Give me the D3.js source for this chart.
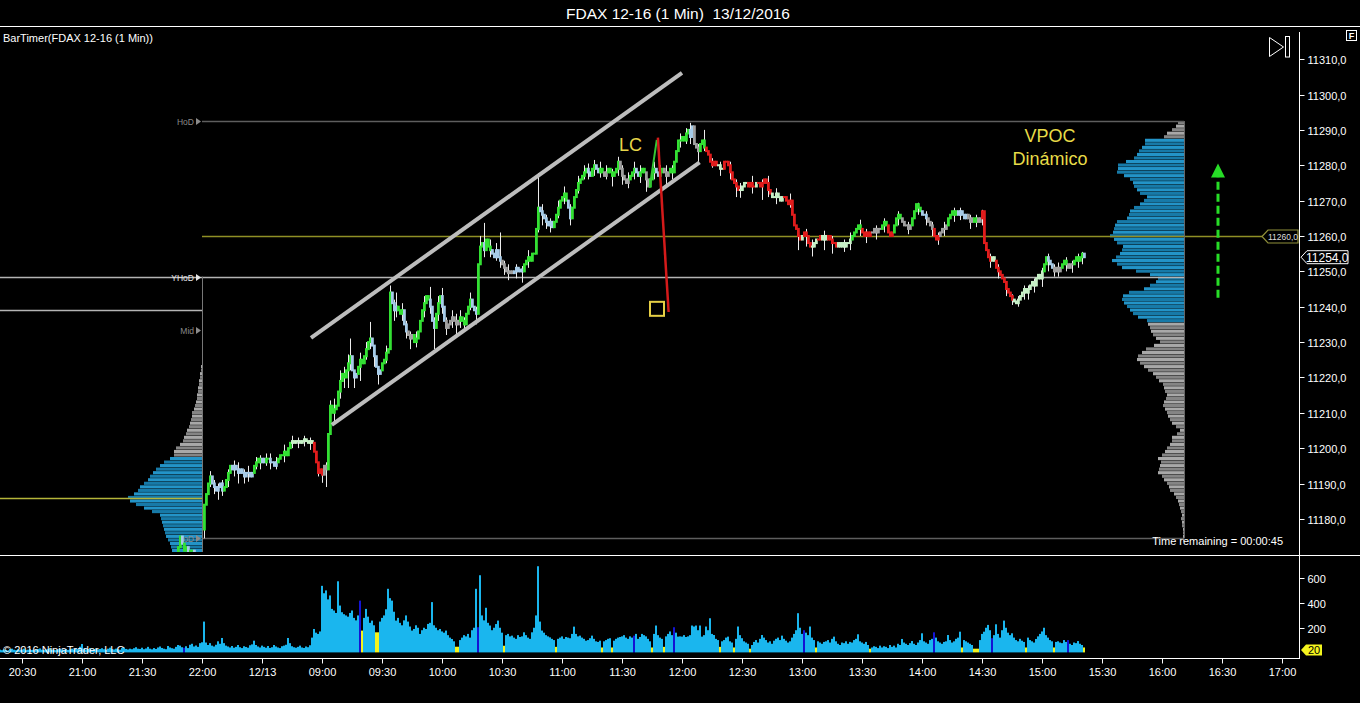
<!DOCTYPE html>
<html><head><meta charset="utf-8">
<script src="https://cdn.jsdelivr.net/npm/d3@7"></script>
<style>
html,body{margin:0;padding:0;background:#000;overflow:hidden}
svg{display:block;font-family:Arial,"Liberation Sans",sans-serif}
</style></head><body>
<svg id="c" width="1360" height="703"></svg>
<script>
// ---------------- DATA ----------------
const title = "FDAX 12-16 (1 Min)  13/12/2016";
const indicatorLabel = "BarTimer(FDAX 12-16 (1 Min))";
const timeLabels = ["20:30","21:00","21:30","22:00","12/13","09:00","09:30","10:00","10:30","11:00","11:30","12:00","12:30","13:00","13:30","14:00","14:30","15:00","15:30","16:00","16:30","17:00"];
const timeLabelBars = [-91,-61,-31,-1,29,59,89,119,149,179,209,239,269,299,329,359,389,419,449,479,509,539];
const priceTicks = [11180,11190,11200,11210,11220,11230,11240,11250,11260,11270,11280,11290,11300,11310];
const volumeTicks = [200,400,600];

const firstOpen = 11177;
const closes = [
11184,11187,11190,11192,11190,11189,11188,11189,11190,11188,
11189,11191,11193,11195,11194,11195,11194,11193,11194,11193,
11192,11193,11193,11192,11193,11195,11196,11197,11196,11197,
11196,11197,11197,11196,11196,11195,11196,11197,11198,11198,
11199,11198,11200,11201.5,11202,11201.5,11202,11202,11201.5,11202,
11202.5,11202,11201.5,11202,11201.5,11199,11196,11193,11194,11192.5,
11195,11194,11204,11212,11210,11211,11212,11216,11219,11221,
11220,11222,11224,11226,11222,11220,11221,11223,11225,11224,
11226,11228,11230,11231,11229,11226,11223,11221,11222,11224,
11225,11227,11228,11244,11241,11239,11240,11239,11238,11239,
11235,11233,11232,11231,11232,11230,11231,11233,11236,11239,
11241,11243,11242,11240,11236,11234,11238,11241,11243,11240,
11236,11234,11235,11236,11237,11236,11235,11236,11237,11236,
11235,11238,11240,11242,11240,11239,11238,11252,11257,11258,
11256,11259,11257,11256,11255,11254,11256,11254,11253,11252,
11251,11250,11249.5,11250,11249.5,11250,11251,11250,11250.5,11250,
11252,11253,11254,11253,11255,11255,11262,11268,11267,11266,
11265,11264,11263,11264,11262.5,11264,11266,11268,11270,11271,
11272,11270,11268,11265,11268,11271,11273,11275,11276,11277,
11278,11279,11278,11277,11279,11280,11279,11278,11279,11278,
11277,11278,11279,11278,11277,11278,11279,11281,11279,11277,
11276,11275,11276,11277,11278,11279,11278,11277,11278,11279,
11278,11276,11274,11276,11278,11279,11278,11277,11278,11279,
11278,11277,11278,11279,11278,11281,11284,11287,11287,11288,
11287,11289,11290,11288,11291,11286,11285,11284,11286,11287,
11285,11284,11283,11281,11280,11281,11280,11280,11279,11279,
11281,11281,11280,11278,11276,11275,11274,11273,11273,11274,
11275,11275,11274,11275,11274,11274,11275,11275,11274,11275,
11276,11275,11273,11272,11271,11271,11272,11271,11270,11271,
11271,11270,11269,11270,11266,11263,11262,11260,11259,11260,
11261,11260,11258,11257,11257,11258,11259,11259,11260,11259,
11260,11259,11260,11259,11258,11258,11257,11258,11257,11258,
11257,11258,11258,11259,11260,11261,11262,11263,11262,11261,
11260,11261,11260,11261,11261,11262,11261,11262,11262,11263,
11264,11263,11261,11260,11261,11263,11265,11266,11265,11264,
11263,11263,11262,11263,11265,11267,11269,11268,11267,11266,
11266,11265,11264,11263,11262,11260,11259,11260,11261,11262,
11262,11263,11265,11266,11267,11266,11267,11266,11267,11266,
11265,11266,11265,11264,11265,11264,11265,11264,11265,11267,
11258,11256,11254,11253,11254,11253,11251,11250,11249,11248,
11247,11245,11244,11243,11242,11241.5,11241,11242,11243,11244,
11245,11244,11245,11246,11247,11246,11248,11249,11248,11250,
11252,11254,11253,11252,11251,11250,11251,11250,11251,11252,
11253,11252,11251,11252,11252,11253,11254,11253,11254,11255,
11254];
// visible wicks: [bar, high, low]
const wicks = [[0,11184,11174.5],[3,11193.5,11189],[5,11191,11187],[7,11190,11185.4],[9,11191,11186.5],[12,11194,11189],[15,11196.5,11192],[17,11196,11190],[20,11194,11190],[22,11195,11190.5],[26,11197.5,11194],[28,11198,11194],[31,11198.5,11195],[33,11198.5,11194],[36,11197.5,11194],[40,11201,11196],[44,11203.5,11200],[47,11203,11200],[50,11203.5,11200.5],[53,11203,11199.5],[57,11196,11192],[59,11194,11190.2],[61,11196,11189],[63,11213.5,11204],[65,11214,11207],[68,11222,11214],[70,11223,11217],[72,11226.5,11217],[73,11231,11222],[75,11222,11217],[78,11227,11219],[81,11230,11225],[83,11235.7,11228],[85,11229,11223],[87,11222,11218],[91,11229,11224],[93,11246,11228],[95,11242,11236],[96,11244,11237],[99,11241,11236],[101,11236,11231],[103,11233,11228],[106,11233,11228.5],[110,11243,11237],[113,11245.6,11238],[115,11237,11228],[117,11243,11236],[119,11245.3,11238],[121,11237,11232],[124,11239,11234],[126,11238,11232],[128,11239,11234],[130,11237,11233],[133,11244,11239],[136,11240,11235],[138,11260,11255],[140,11263.7,11254],[143,11259,11254],[146,11258,11253],[148,11261,11251],[150,11253,11249],[152,11252,11247.5],[156,11252,11248],[159,11251.5,11246.8],[162,11256,11251],[167,11277.8,11261],[169,11269,11263],[171,11266,11262],[173,11265,11261],[177,11270,11265],[180,11274,11269],[183,11269,11263],[187,11277,11272],[190,11280,11276],[192,11280.5,11276],[195,11281.5,11277],[198,11281,11276.5],[201,11280,11276],[204,11279,11274],[207,11282.4,11277],[209,11280,11274.5],[212,11278,11273.5],[215,11281,11276],[218,11280,11275],[221,11277,11272.5],[225,11281,11276],[228,11280,11275],[231,11280,11274],[234,11280,11276],[238,11289,11285],[241,11290.5,11286],[243,11292,11286],[247,11286,11281],[250,11290,11284],[254,11282,11279.3],[258,11281,11277],[263,11281,11276],[266,11276,11271],[268,11275,11270.8],[274,11277,11272],[279,11276,11270.2],[282,11277,11271],[286,11273.5,11269],[293,11272,11268],[297,11261,11256],[301,11262,11257],[304,11259,11254.2],[310,11261.5,11256],[314,11260,11255],[320,11259,11255.5],[323,11261,11256],[328,11264.6,11260],[331,11262,11258],[336,11263,11259],[340,11265,11261],[347,11267,11263],[352,11264,11260.5],[357,11269.4,11266],[361,11267,11263],[364,11264,11260],[367,11261,11257.5],[370,11264,11260],[375,11268,11264],[378,11268,11264.5],[383,11266,11262],[386,11266,11262.5],[389,11267.4,11263],[393,11255,11251],[397,11252,11248],[401,11246.5,11243],[404,11243.5,11240.5],[407,11243,11240],[410,11246,11242],[412,11246,11242],[415,11248,11244],[419,11251,11245.6],[422,11255,11250],[425,11252,11248.5],[427,11252.5,11248.5],[431,11254,11250],[434,11253,11249.6],[437,11255,11251],[439,11255.5,11252]];
// bar colour state runs: [startBar, state]  G up, B pullback, P weak, R down, K neutral
const colorRuns = [[0,'G'],[4,'B'],[10,'G'],[14,'B'],[25,'G'],[29,'B'],[31,'G'],[33,'B'],[37,'G'],[44,'P'],[55,'R'],[60,'K'],[62,'G'],[74,'B'],[77,'G'],[84,'B'],[89,'G'],[94,'B'],[97,'G'],[100,'B'],[102,'K'],[105,'G'],[113,'B'],[116,'G'],[119,'B'],[121,'K'],[128,'G'],[134,'B'],[137,'G'],[140,'B'],[141,'G'],[144,'B'],[149,'K'],[155,'B'],[160,'G'],[168,'B'],[175,'G'],[182,'B'],[184,'G'],[192,'B'],[194,'G'],[196,'B'],[198,'G'],[200,'K'],[202,'G'],[208,'K'],[213,'G'],[216,'B'],[218,'G'],[221,'K'],[223,'G'],[226,'B'],[228,'G'],[230,'K'],[233,'G'],[243,'B'],[245,'K'],[248,'G'],[251,'R'],[257,'P'],[260,'R'],[268,'P'],[272,'R'],[276,'P'],[277,'R'],[284,'P'],[290,'R'],[299,'P'],[300,'R'],[304,'P'],[307,'R'],[309,'P'],[312,'R'],[317,'P'],[324,'G'],[329,'R'],[334,'K'],[339,'G'],[342,'R'],[345,'G'],[349,'K'],[354,'G'],[359,'B'],[362,'K'],[365,'R'],[368,'K'],[372,'G'],[377,'B'],[382,'K'],[385,'G'],[387,'K'],[389,'R'],[394,'P'],[396,'R'],[405,'P'],[420,'G'],[422,'B'],[425,'K'],[429,'G'],[432,'K'],[435,'G'],[440,'B']];

// previous session (last visible bars)
const prevStartBar = -14;
const prevCloses = [11169,11172,11175,11173,11171,11172,11170,11171,11171,11169];

// volume
const prevVolumes = [22,18,25,20,15,28,30,22,18,25, 20,24,30,18,22,26,20,17,25,28, 32,22,19,24,27,35,22,20,18,26, 30,24,22,28,20,25,30,22,34,26, 46,68,30,24,28,35,22,26,30,25, 28,34,26,22,30,38,27,24,30,26, 22,35,40,28,24,30,26,34,42,30, 28,38,26,32,45,30,25,35,28,40, 48,36,30,26,52,40,34,30,45,60, 55,42,38,50,35,62,70,48,56,45, 75,82];
const volumes = [
250,80,60,75,55,48,62,90,70,117, 75,55,48,40,52,38,45,60,42,35,
50,44,38,58,65,95,60,48,40,55, 45,38,52,36,42,60,48,40,35,50,
55,62,117,75,50,42,38,45,55,40, 36,48,42,58,120,190,160,150,170,540,
480,503,430,462,353,340,320,577,380,326, 310,300,290,320,340,280,260,300,420,177,
280,353,290,240,258,220,163,163,250,280, 300,350,516,440,420,330,258,280,240,220,
260,300,250,210,177,190,220,200,150,180, 200,190,231,240,408,220,200,180,190,170,
160,177,140,120,109,90,46,46,100,120, 140,130,150,120,180,200,516,204,626,300,
260,362,240,218,180,200,230,258,200,160, 54,140,150,130,136,120,110,140,125,130,
163,140,120,110,163,200,300,699,250,177, 160,140,130,122,110,100,45,110,120,130,
110,125,120,115,150,209,150,130,136,120, 110,95,100,115,136,110,90,85,95,40,
90,100,110,115,40,95,110,120,125,130, 140,120,110,130,120,136,150,110,125,150,
140,130,110,90,40,150,218,140,120,110, 45,130,150,170,140,204,160,128,130,128,
140,125,130,140,218,210,218,180,218,128, 140,210,180,277,150,141,110,100,45,90,
100,120,128,90,80,40,110,210,140,115, 90,80,70,30,60,85,100,80,110,141,
120,100,80,90,70,95,110,120,100,136, 110,95,80,90,120,150,180,318,200,150,
180,160,140,210,120,100,40,90,80,70, 85,90,100,80,110,128,90,70,60,80,
75,90,70,85,80,100,110,147,90,80, 70,85,60,30,40,50,45,35,55,40,
50,45,35,60,45,55,40,70,60,109, 80,70,60,75,92,70,60,80,100,155,
90,80,70,100,110,163,120,90,80,70, 85,90,141,100,80,90,110,120,168,40,
100,90,80,70,60,30,30,30,100,150, 168,200,223,180,115,140,228,150,120,180,
258,200,160,140,155,120,100,90,110,95, 85,40,120,100,90,80,109,130,150,170,
200,140,120,100,90,40,85,90,80,75, 100,85,100,70,60,80,75,92,70,60,
40];
const volYellowBars = [79,86,87,126,127,150,176,199,204,224,230,258,265,273,306,333,379,385,386,387,411,425,440];
const volDarkBars = [-10,78,137,215,235,300,365,394,432];
const lastVolume = 20;

// session levels
const HoD = 11292.5, LoD = 11174.5, YHoD = 11248.5, prevLevel = 11239, VPOC = 11260, prevVPOC = 11186, lastPrice = 11254;
const sessionStartBar = -1, profileEdgeBar = 490;

// current session volume profile (1-pt levels, ascending from profileLow)
const profileLow = 11174;
const profileVol = [1,1,1,1,2,2,3,2,3,4, 5,6,8,10,14,15,17,20,22,26, 25,24,23,26,22,19,17,14,12,12, 7,4,8,12,14,16,17,19,21,20, 18,17,19,20,21,25,28,31,36,40, 44,47,46,42,38,30,24,28,31,33, 34,36,37,46,51,54,57,60,62,61, 55,40,34,28,26,34,48,62,67,72, 68,64,62,61,67,70,74,71,70,69, 67,57,55,54,50,44,40,37,44,47, 50,51,54,60,67,66,66,58,50,47, 45,42,39,39,20,17,12,8,6];
const vaLow = 11236, vaHigh = 11287;
// previous session profile
const prevProfileLow = 11168;
const prevProfileVol = [28,28,29,30,31,32,34,36,37,38, 39,40,41,42,50,58,66,72,74,68, 64,62,58,54,52,49,46,42,38,32, 28,28,26,22,19,18,16,15,13,12, 11,10,10,8,7,6,5,5,4,4, 3,3,2,2,1,1];
const prevVaHigh = 11197;

// drawings: [bar, price]
const channelUpper = [[53.5,11231.2],[239,11306.1]];
const channelLower = [[63.9,11206.6],[247.8,11280.8]];
const lcUp = [[222.8,11273.6],[226.4,11287.2]];
const lcDown = [[226.95,11287.8],[232.3,11238.5]];
const lcBox = [226.5,11239.4];
const lcText = [207.5,11284];
const vpocText = [423,11286.7];
const vpocText2 = [423,11280.1];
const arrowBar = 507, arrowFrom = 11242.5, arrowTo = 11280.5;

// ---------------- DRAW ----------------
const svg = d3.select("#c");
svg.append("rect").attr("width",1360).attr("height",703).attr("fill","#000");

const x = d3.scaleLinear().domain([-102,547]).range([0,1298]);
const y = d3.scaleLinear().domain([11169.5,11319.1]).range([556,27]);
const yV = d3.scaleLinear().domain([0,774]).range([652.4,557]);
const wP = d3.scaleLinear().domain([0,74]).range([0,74]);

svg.append("text").attr("x",678).attr("y",19).attr("text-anchor","middle").attr("fill","#fff").attr("font-size",15.5).style("white-space","pre").text(title);
svg.append("line").attr("x1",0).attr("x2",1360).attr("y1",26.5).attr("y2",26.5).attr("stroke","#fff");
svg.append("text").attr("x",3).attr("y",42).attr("fill","#fff").attr("font-size",11).text(indicatorLabel);

const defs = svg.append("defs");
defs.append("clipPath").attr("id","pc").append("rect").attr("x",0).attr("y",27).attr("width",1298).attr("height",525);
const g = svg.append("g").attr("clip-path","url(#pc)");

// profiles
const blueA="#2394c8", blueB="#177aa8", grayA="#a8a8a8", grayB="#858585";
const pr = x(profileEdgeBar);
profileVol.forEach((v,k)=>{
  const p = profileLow + k;
  const inVA = p>=vaLow && p<=vaHigh;
  g.append("rect").attr("x",pr-wP(v)).attr("width",wP(v))
   .attr("y",y(p+0.5)).attr("height",Math.max(0.5,y(p-0.5)-y(p+0.5)-0.4))
   .attr("fill", inVA ? (k%2?blueA:blueB) : (k%2?grayA:grayB));
});
const pl = x(sessionStartBar);
prevProfileVol.forEach((v,k)=>{
  const p = prevProfileLow + k;
  const inVA = p<=prevVaHigh;
  g.append("rect").attr("x",pl-wP(v)).attr("width",wP(v))
   .attr("y",y(p+0.5)).attr("height",Math.max(0.5,y(p-0.5)-y(p+0.5)-0.4))
   .attr("fill", inVA ? (k%2?blueA:blueB) : (k%2?grayA:grayB));
});

// level lines
function hline(p,x0,x1,col,w){g.append("line").attr("x1",x0).attr("x2",x1).attr("y1",Math.round(y(p))+0.5).attr("y2",Math.round(y(p))+0.5).attr("stroke",col).attr("stroke-width",w||1);}
hline(HoD,x(sessionStartBar),pr,"#5e5e5e",1.5);
hline(LoD,x(sessionStartBar),pr,"#5e5e5e",1.5);
hline(YHoD,x(-102),pr,"#b4b4b4",1.5);
hline(prevLevel,x(-102),x(sessionStartBar),"#b4b4b4",1.5);
hline(prevVPOC,x(-102),x(sessionStartBar),"#b5b53a",1.5);
hline(VPOC,x(sessionStartBar),1262,"#8f8f25",1.5);
g.append("line").attr("x1",pl+0.5).attr("x2",pl+0.5).attr("y1",y(YHoD)).attr("y2",552).attr("stroke","#777");
g.append("line").attr("x1",pr+0.5).attr("x2",pr+0.5).attr("y1",y(HoD)).attr("y2",y(LoD)).attr("stroke","#666");

// level tags
function tag(label,p,col){
  const yy=Math.round(y(p))+0.5, xe=x(sessionStartBar);
  g.append("text").attr("x",xe-8).attr("y",yy+3).attr("text-anchor","end").attr("fill",col).attr("font-size",8.5).text(label);
  g.append("path").attr("d",`M${xe-6},${yy-3.5}L${xe-1},${yy}L${xe-6},${yy+3.5}Z`).attr("fill",col);
}
tag("HoD",HoD,"#8a8a8a");
tag("YHoD",YHoD,"#e6e6e6");
tag("Mid",(HoD+LoD)/2,"#8a8a8a");
tag("LoD",LoD,"#8a8a8a");

// candles
const colMap = {G:"#33e033",B:"#a6cbe8",P:"#c6f0c6",R:"#e01c1c",K:"#a0a0a0"};
function stateAt(i){let s='G';for(const r of colorRuns){if(r[0]<=i)s=r[1];else break;}return s;}
const bars = closes.map((c,i)=>({i,o:i?closes[i-1]:firstOpen,c,s:stateAt(i)}));
const wickMap = new Map(wicks.map(w=>[w[0],w]));
const prevBars = prevCloses.map((c,k)=>({i:prevStartBar+k,o:k?prevCloses[k-1]:c-1,c,s:k%3?'G':'B'}));
const allBars = prevBars.concat(bars);
g.selectAll(".wk").data(allBars.filter(b=>wickMap.has(b.i))).join("line")
 .attr("x1",b=>x(b.i)+0.5).attr("x2",b=>x(b.i)+0.5)
 .attr("y1",b=>y(Math.max(wickMap.get(b.i)[1],b.o,b.c)))
 .attr("y2",b=>y(Math.min(wickMap.get(b.i)[2],b.o,b.c)))
 .attr("stroke","#ececec").attr("stroke-width",1);
g.selectAll(".cd").data(allBars).join("rect")
 .attr("x",b=>x(b.i)-1).attr("width",2.8)
 .attr("y",b=>y(Math.max(b.o,b.c))-1)
 .attr("height",b=>Math.abs(y(b.o)-y(b.c))+2)
 .attr("fill",b=>colMap[b.s]);

// channel
const line = d3.line().x(d=>x(d[0])).y(d=>y(d[1]));
g.append("path").attr("d",line(channelUpper)).attr("stroke","#bdbdbd").attr("stroke-width",4).attr("fill","none");
g.append("path").attr("d",line(channelLower)).attr("stroke","#bdbdbd").attr("stroke-width",4).attr("fill","none");
g.append("path").attr("d",line(lcUp)).attr("stroke","#35c635").attr("stroke-width",2).attr("fill","none");
g.append("path").attr("d",line(lcDown)).attr("stroke","#d41a1a").attr("stroke-width",2.5).attr("fill","none");
g.append("rect").attr("x",x(lcBox[0])-7).attr("y",y(lcBox[1])-7).attr("width",14).attr("height",14).attr("fill","none").attr("stroke","#e6cf45").attr("stroke-width",2);
g.append("text").attr("x",x(lcText[0])).attr("y",y(lcText[1])).attr("fill","#e8d64a").attr("font-size",18).text("LC");
g.append("text").attr("x",x(vpocText[0])).attr("y",y(vpocText[1])).attr("text-anchor","middle").attr("fill","#e8dc48").attr("font-size",18).text("VPOC");
g.append("text").attr("x",x(vpocText2[0])).attr("y",y(vpocText2[1])).attr("text-anchor","middle").attr("fill","#e8dc48").attr("font-size",18).text("Dinámico");

// green dashed arrow
const ax = x(arrowBar);
g.append("line").attr("x1",ax).attr("x2",ax).attr("y1",y(arrowFrom)).attr("y2",y(arrowTo)+14)
 .attr("stroke","#27dd27").attr("stroke-width",3).attr("stroke-dasharray","8,4");
g.append("path").attr("d",`M${ax-7},${y(arrowTo)+14}L${ax+7},${y(arrowTo)+14}L${ax},${y(arrowTo)}Z`).attr("fill","#27dd27");

svg.append("text").attr("x",1283).attr("y",545).attr("text-anchor","end").attr("fill","#fff").attr("font-size",11).text("Time remaining = 00:00:45");

// separators
svg.append("line").attr("x1",0).attr("x2",1360).attr("y1",555.5).attr("y2",555.5).attr("stroke","#fff");

// price axis
const ay = svg.append("g").attr("transform","translate(1299.5,0)");
ay.append("line").attr("y1",32).attr("y2",658).attr("stroke","#fff");
ay.selectAll(".pt").data(priceTicks).join("g").attr("transform",d=>`translate(0,${Math.round(y(d))+0.5})`).call(s=>{
  s.append("line").attr("x2",5).attr("stroke","#fff");
  s.append("text").attr("x",8).attr("y",4).attr("fill","#fff").attr("font-size",11).text(d=>d3.format(".1f")(d).replace(".",","));
});
// VPOC tag
const vy = Math.round(y(VPOC))+0.5;
svg.append("path").attr("d",`M1262,${vy}L1268,${vy-6.5}L1298,${vy-6.5}L1298,${vy+6.5}L1268,${vy+6.5}Z`).attr("fill","#000").attr("stroke","#8f8f3a").attr("stroke-width",1.2);
svg.append("text").attr("x",1283).attr("y",vy+3).attr("text-anchor","middle").attr("fill","#ddd").attr("font-size",8.5).text(d3.format(".1f")(VPOC).replace(".",","));
// last price tag
const ly = y(lastPrice);
svg.append("path").attr("d",`M1301,${ly}L1307,${ly-6.5}L1348,${ly-6.5}L1348,${ly+6.5}L1307,${ly+6.5}Z`).attr("fill","#000").attr("stroke","#fff");
svg.append("text").attr("x",1306).attr("y",ly+4.5).attr("fill","#fff").attr("font-size",12).text(d3.format(".1f")(lastPrice).replace(".",","));

// play icon & F box
svg.append("path").attr("d","M1269.5,37.5L1283.5,47L1269.5,56.5Z").attr("fill","none").attr("stroke","#fff");
svg.append("rect").attr("x",1285.5).attr("y",36.5).attr("width",4).attr("height",20.5).attr("fill","none").attr("stroke","#fff");
svg.append("rect").attr("x",1346.5).attr("y",30.5).attr("width",10).attr("height",10).attr("fill","none").attr("stroke","#fff");
svg.append("text").attr("x",1351.5).attr("y",39).attr("text-anchor","middle").attr("fill","#fff").attr("font-size",9).attr("font-weight","bold").text("F");

// volume
const vcol = i => volDarkBars.includes(i) ? "#1414d4" : (volYellowBars.includes(i) ? "#f4f41e" : "#1ab6ee");
const vData = prevVolumes.map((v,k)=>({i:-102+k,v})).concat(volumes.map((v,i)=>({i,v})));
svg.append("g").selectAll("rect").data(vData).join("rect")
 .attr("x",d=>x(d.i)-1).attr("width",2).attr("y",d=>yV(d.v)).attr("height",d=>yV(0)-yV(d.v)).attr("fill",d=>vcol(d.i));
svg.append("text").attr("x",3).attr("y",654).attr("fill","#fff").attr("font-size",11).text("© 2016 NinjaTrader, LLC");
const av = svg.append("g").attr("transform","translate(1299.5,0)");
av.selectAll(".vt").data(volumeTicks).join("g").attr("transform",d=>`translate(0,${Math.round(yV(d))+0.5})`).call(s=>{
  s.append("line").attr("x2",5).attr("stroke","#fff");
  s.append("text").attr("x",8).attr("y",4).attr("fill","#fff").attr("font-size",11).text(d=>d);
});
const vy2 = yV(lastVolume);
svg.append("path").attr("d",`M1301,${vy2}L1306,${vy2-5.5}L1322,${vy2-5.5}L1322,${vy2+5.5}L1306,${vy2+5.5}Z`).attr("fill","#f4f41e");
svg.append("text").attr("x",1314).attr("y",vy2+4).attr("text-anchor","middle").attr("fill","#000").attr("font-size",11).text(lastVolume);

// time axis
svg.append("line").attr("x1",0).attr("x2",1300).attr("y1",658.5).attr("y2",658.5).attr("stroke","#fff");
const at = svg.append("g");
at.selectAll("g").data(timeLabels).join("g").attr("transform",(d,k)=>`translate(${Math.round(x(timeLabelBars[k]))+0.5},658.5)`).call(s=>{
  s.append("line").attr("y2",5).attr("stroke","#fff");
  s.append("text").attr("y",17).attr("text-anchor","middle").attr("fill","#fff").attr("font-size",11).text(d=>d);
});
</script>
</body></html>
